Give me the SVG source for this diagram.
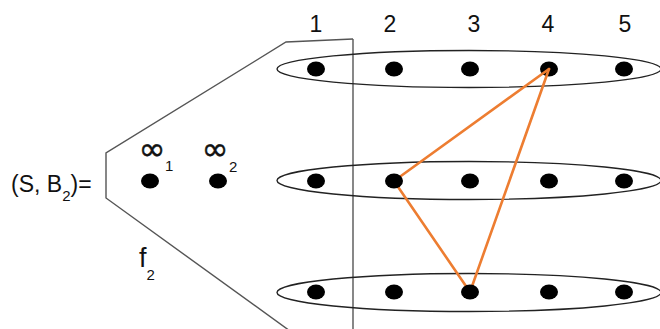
<svg xmlns="http://www.w3.org/2000/svg" width="660" height="329" viewBox="0 0 660 329">
<style>
text{font-family:"Liberation Sans",Arial,sans-serif;fill:#111}
.num{font-size:23px;text-anchor:middle}
.ell{fill:none;stroke:#222;stroke-width:1.4}
.dot{fill:#000}
.edge{stroke:#ED7D31;stroke-width:2.6;fill:none;stroke-linecap:round}
.frame{fill:none;stroke:#555;stroke-width:1.4}
.inf{font-family:"DejaVu Sans",sans-serif;font-size:32px;text-anchor:middle;stroke:#111;stroke-width:0.5}
</style>
<g id="frame">
<polyline class="frame" points="353,39 286,42 106,153 106,198 290,331"/>
<line class="frame" x1="353" y1="39" x2="353" y2="329"/>
</g>
<g id="labels">
<text class="num" x="316" y="32">1</text>
<text class="num" x="390" y="32">2</text>
<text class="num" x="474" y="32">3</text>
<text class="num" x="548" y="32">4</text>
<text class="num" x="625" y="32">5</text>
<text x="11" y="192" font-size="23">(S, B<tspan font-size="15" dy="9">2</tspan><tspan dy="-9">)=</tspan></text>
<text x="139" y="267" font-size="27">f<tspan font-size="15" dy="13">2</tspan></text>
</g>
<g id="row1">
<ellipse class="ell" cx="469" cy="69" rx="192" ry="18.5"/>
<ellipse class="dot" cx="316" cy="69" rx="9" ry="7.5"/>
<ellipse class="dot" cx="394" cy="69" rx="9" ry="7.5"/>
<ellipse class="dot" cx="470" cy="69" rx="9" ry="7.5"/>
<ellipse class="dot" cx="549" cy="69" rx="9" ry="7.5"/>
<ellipse class="dot" cx="624" cy="69" rx="9" ry="7.5"/>
</g>
<g id="row2">
<ellipse class="ell" cx="469" cy="180.5" rx="192" ry="19"/>
<ellipse class="dot" cx="316" cy="181" rx="9" ry="7.5"/>
<ellipse class="dot" cx="470" cy="181" rx="9" ry="7.5"/>
<ellipse class="dot" cx="549" cy="181" rx="9" ry="7.5"/>
<ellipse class="dot" cx="624" cy="181" rx="9" ry="7.5"/>
</g>
<g id="row3">
<ellipse class="ell" cx="469" cy="292.5" rx="192" ry="19"/>
<ellipse class="dot" cx="316" cy="292" rx="9" ry="7.5"/>
<ellipse class="dot" cx="394" cy="292" rx="9" ry="7.5"/>
<ellipse class="dot" cx="549" cy="292" rx="9" ry="7.5"/>
<ellipse class="dot" cx="624" cy="292" rx="9" ry="7.5"/>
</g>
<g id="connectors">
<line class="edge" x1="549" y1="69" x2="394" y2="181"/>
<line class="edge" x1="394" y1="181" x2="470" y2="292"/>
<line class="edge" x1="470" y1="292" x2="549" y2="69"/>
</g>
<g id="hub-nodes">
<ellipse class="dot" cx="394" cy="181" rx="9" ry="7.5"/>
<ellipse class="dot" cx="470" cy="292" rx="9" ry="7.5"/>
</g>
<g id="inf1">
<text class="inf" x="152" y="160">∞</text>
<text x="165" y="171" font-size="15">1</text>
<ellipse class="dot" cx="150" cy="181" rx="9" ry="7.5"/>
</g>
<g id="inf2">
<text class="inf" x="215" y="160">∞</text>
<text x="229" y="172" font-size="15">2</text>
<ellipse class="dot" cx="218" cy="181" rx="9" ry="7.5"/>
</g>
</svg>
